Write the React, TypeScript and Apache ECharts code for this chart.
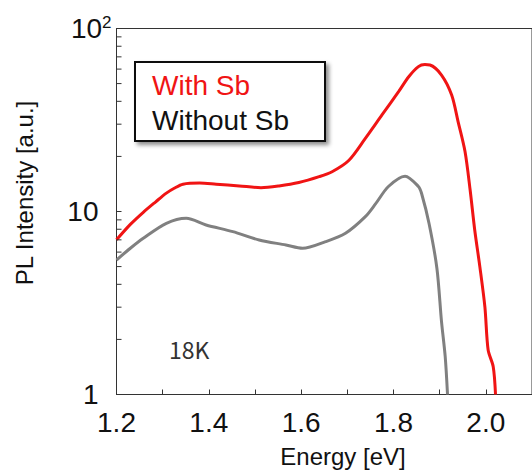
import React, { useEffect, useRef } from "react";
import * as echarts from "echarts";

// Energy [eV] / PL intensity [a.u.]
const energyWithSb = [1.2, 1.23, 1.258, 1.285, 1.308, 1.325, 1.344, 1.38, 1.416, 1.466, 1.513, 1.552, 1.595, 1.639, 1.667, 1.703, 1.739, 1.775, 1.811, 1.833, 1.854, 1.868, 1.879, 1.904, 1.926, 1.94, 1.955, 1.966, 1.976, 1.987, 1.998, 2.005, 2.016, 2.021];
const intensityWithSb = [7.0, 8.5, 9.9, 11.3, 12.6, 13.4, 14.1, 14.3, 14.1, 13.8, 13.5, 13.8, 14.4, 15.5, 16.5, 19.0, 25.1, 33.7, 45.2, 54.5, 61.9, 63.5, 63.2, 55.7, 43.3, 30.9, 21.2, 13.1, 7.9, 5.0, 3.0, 1.75, 1.42, 1.0];

const energyWithoutSb = [1.2, 1.23, 1.258, 1.308, 1.351, 1.394, 1.452, 1.509, 1.567, 1.603, 1.653, 1.696, 1.739, 1.761, 1.789, 1.825, 1.854, 1.861, 1.877, 1.894, 1.904, 1.912, 1.917];
const intensityWithoutSb = [5.43, 6.3, 7.14, 8.62, 9.18, 8.44, 7.76, 6.99, 6.56, 6.29, 6.84, 7.6, 9.37, 11.0, 13.7, 15.6, 13.7, 12.5, 8.6, 4.9, 2.5, 1.61, 1.0];

const seriesNames = ["With Sb", "Without Sb"];
const xMin = 1.2;
const xMax = 2.1;
const xInterval = 0.1;
const yMinorTicks = [2, 3, 4, 5, 6, 7, 8, 9, 20, 30, 40, 50, 60, 70, 80, 90];
const xAxisTitle = "Energy [eV]";
const yAxisTitle = "PL Intensity [a.u.]";
const tempLabel = "18K";

const FONT = "'Liberation Sans', Arial, sans-serif";

export default function App() {
  const ref = useRef<HTMLDivElement>(null);
  useEffect(() => {
    if (!ref.current) return;
    const chart = echarts.init(ref.current, null, { renderer: "svg" });
    const withData = energyWithSb.map((e, i) => [e, intensityWithSb[i]]);
    const withoutData = energyWithoutSb.map((e, i) => [e, intensityWithoutSb[i]]);
    chart.setOption({
      animation: false,
      backgroundColor: "#ffffff",
      grid: {
        left: 116.5,
        right: -2,
        top: 28.5,
        bottom: 76.5,
        show: true,
        borderColor: "#333",
        borderWidth: 1,
        backgroundColor: "transparent",
      },
      xAxis: {
        type: "value",
        min: xMin,
        max: xMax,
        interval: xInterval,
        axisLine: { show: true, lineStyle: { color: "#333", width: 1 } },
        axisTick: { show: true, inside: true, length: 5, lineStyle: { color: "#333", width: 1 } },
        splitLine: { show: false },
        axisLabel: {
          margin: 14,
          fontFamily: FONT,
          fontSize: 28,
          color: "#111",
          showMaxLabel: false,
          formatter: (v: number) => {
            const k = Math.round(v * 10);
            return k % 2 === 0 ? (k / 10).toFixed(1) : "";
          },
        },
      },
      yAxis: {
        type: "log",
        logBase: 10,
        min: 1,
        max: 100,
        axisLine: { show: true, lineStyle: { color: "#333", width: 1 } },
        axisTick: { show: true, inside: true, length: 5, lineStyle: { color: "#333", width: 1 } },
        splitLine: { show: false },
        axisLabel: {
          margin: 5,
          fontFamily: FONT,
          color: "#111",
          formatter: (v: number) => {
            const r = Math.round(v);
            return r === 100 ? "{m|10}{s|2}" : "{n|" + r + "}";
          },
          rich: {
            n: { fontFamily: FONT, fontSize: 28, color: "#111", padding: [0, 13, 0, 0], lineHeight: 30 },
            m: { fontFamily: FONT, fontSize: 28, color: "#111", lineHeight: 30 },
            s: { fontFamily: FONT, fontSize: 17, color: "#111", lineHeight: 17, verticalAlign: "top" },
          },
        },
      },
      series: [
        {
          name: seriesNames[0],
          type: "line",
          data: withData,
          showSymbol: false,
          smooth: 0.3,
          lineStyle: { color: "#f01414", width: 3 },
          z: 3,
        },
        {
          name: seriesNames[1],
          type: "line",
          data: withoutData,
          showSymbol: false,
          smooth: 0.3,
          lineStyle: { color: "#808080", width: 3 },
          z: 2,
        },
        {
          type: "custom",
          data: yMinorTicks.map((v) => [xMin, v]),
          silent: true,
          renderItem: (params: any, api: any) => {
            const p = api.coord([api.value(0), api.value(1)]);
            return {
              type: "line",
              shape: { x1: p[0], y1: p[1], x2: p[0] + 5, y2: p[1] },
              style: { stroke: "#333", lineWidth: 1 },
            };
          },
          z: 4,
        },
      ],
      graphic: [
        {
          type: "rect",
          shape: { x: 135, y: 62, width: 190, height: 79 },
          style: {
            fill: "#fff",
            stroke: "#111",
            lineWidth: 2,
            shadowBlur: 4,
            shadowOffsetX: 3,
            shadowOffsetY: 3,
            shadowColor: "rgba(0,0,0,0.45)",
          },
          z: 10,
        },
        {
          type: "text",
          x: 152,
          y: 85.5,
          style: { text: seriesNames[0], fill: "#f01414", font: `28px ${FONT}`, align: "left", verticalAlign: "middle" },
          z: 11,
        },
        {
          type: "text",
          x: 152,
          y: 120,
          style: { text: seriesNames[1], fill: "#111", font: `28px ${FONT}`, align: "left", verticalAlign: "middle" },
          z: 11,
        },
        {
          type: "text",
          x: 343,
          y: 456,
          style: { text: xAxisTitle, fill: "#111", font: `24px ${FONT}`, align: "center", verticalAlign: "middle" },
        },
        {
          type: "text",
          x: 24,
          y: 193,
          rotation: Math.PI / 2,
          style: { text: yAxisTitle, fill: "#111", font: `24px ${FONT}`, align: "center", verticalAlign: "middle" },
        },
        {
          type: "text",
          x: 169,
          y: 349,
          style: { text: tempLabel, fill: "#333", font: `23px 'Noto Sans CJK JP', 'Noto Sans', sans-serif`, align: "left", verticalAlign: "middle" },
        },
      ],
    });
    return () => chart.dispose();
  }, []);
  return <div ref={ref} style={{ position: "absolute", left: 0, top: 0, width: 532, height: 471 }} />;
}
